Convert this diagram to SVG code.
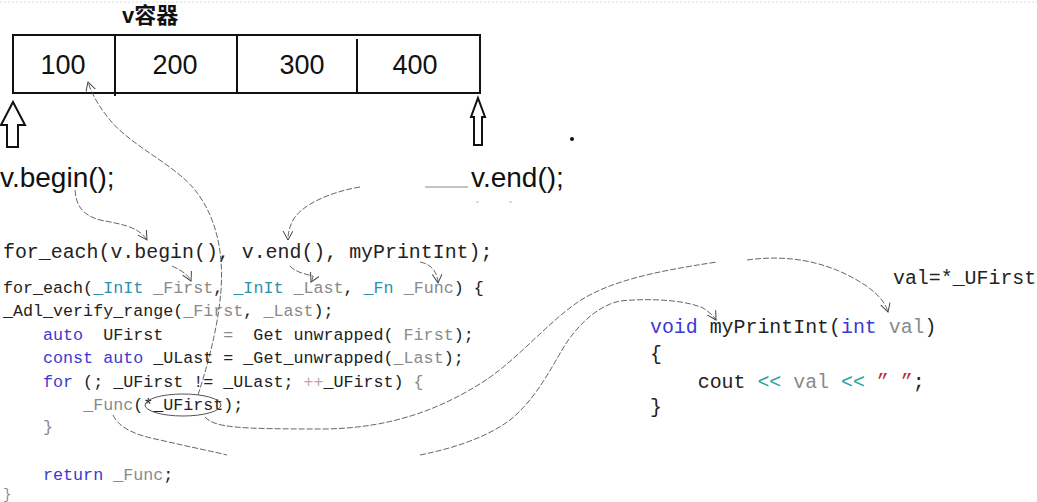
<svg xmlns="http://www.w3.org/2000/svg" width="1037" height="502" viewBox="0 0 1037 502" xml:space="preserve">
<style>
  .lbl { font-family: "Liberation Sans", "Noto Sans CJK SC", sans-serif; fill: #111; }
  .num { font-family: "Liberation Sans", sans-serif; font-size: 27px; fill: #111; text-anchor: middle; }
  .code { font-family: "Liberation Mono", "DejaVu Sans Mono", monospace; fill: #222; white-space: pre; }
  .sm { font-size: 16.7px; }
  .lg { font-size: 19.9px; }
  .kw { fill: #3a3ad0; }
  .ty { fill: #2b91af; }
  .pr { fill: #8a8a8a; }
  .op { fill: #2aa0a0; }
  .st { fill: #c03030; }
  .pp { fill: #c8a0a8; }
  .box { fill: none; stroke: #111; stroke-width: 2; }
  .blk { fill: #fff; stroke: #111; stroke-width: 2; stroke-linejoin: miter; }
  .con { fill: none; stroke: #555; stroke-width: 0.9; stroke-dasharray: 6 2; }
  .con2 { fill: none; stroke: #555; stroke-width: 1; }
</style>
<defs>
  <marker id="ah" markerUnits="userSpaceOnUse" markerWidth="12" markerHeight="12" refX="9" refY="5" orient="auto">
    <path d="M0,0 L9,5 L0,10" fill="none" stroke="#444" stroke-width="1"/>
  </marker>
</defs>
<rect width="1037" height="502" fill="#fff"/>
<line x1="0" y1="2" x2="1037" y2="2" stroke="#d4dbe4" stroke-width="1" stroke-dasharray="2 2"/>

<g id="container">
  <text class="lbl" x="122" y="23" font-size="22" font-weight="bold">v容器</text>
  <rect class="box" x="13" y="35" width="467" height="58"/>
  <line class="box" x1="115" y1="35" x2="115" y2="96"/>
  <line class="box" x1="237" y1="35" x2="237" y2="93"/>
  <line class="box" x1="357" y1="39" x2="357" y2="93"/>
  <text class="num" x="63" y="74">100</text>
  <text class="num" x="175" y="74">200</text>
  <text class="num" x="302" y="74">300</text>
  <text class="num" x="415" y="74">400</text>
</g>

<g id="begin-arrow">
  <polygon class="blk" points="13,102 25,125 18,125 18,147 7,147 7,125 1,125"/>
  <text class="lbl" x="0" y="187" font-size="28">v.begin();</text>
</g>

<g id="end-arrow">
  <polygon class="blk" points="478,98 485,117 482,117 482,145 474,145 474,117 471,117"/>
  <text class="lbl" x="471" y="187" font-size="28">v.end();</text>
  <line x1="425" y1="187" x2="468" y2="187" stroke="#888" stroke-width="1"/>
  <line x1="476" y1="202" x2="479" y2="202" stroke="#bbb" stroke-width="1"/>
  <line x1="509" y1="202" x2="512" y2="202" stroke="#bbb" stroke-width="1"/>
</g>

<circle id="dot" cx="572" cy="139" r="2" fill="#111"/>

<g id="call">
  <text class="code lg" x="3" y="258">for_each(v.begin(), v.end(), myPrintInt);</text>
</g>

<g id="for-each-impl">
  <text class="code sm" x="3" y="293">for_each(<tspan class="ty">_InIt</tspan> <tspan class="pr">_First</tspan>, <tspan class="ty">_InIt</tspan> <tspan class="pr">_Last</tspan>, <tspan class="ty">_Fn</tspan> <tspan class="pr">_Func</tspan>) {</text>
  <text class="code sm" x="3" y="316">_Adl_verify_range(<tspan class="pr">_First</tspan>, <tspan class="pr">_Last</tspan>);</text>
  <text class="code sm" x="3" y="340">    <tspan class="kw">auto</tspan>  UFirst      <tspan class="pr">=</tspan>  Get unwrapped( <tspan class="pr">First</tspan>);</text>
  <text class="code sm" x="3" y="363">    <tspan class="kw">const auto</tspan> _ULast = _Get_unwrapped(<tspan class="pr">_Last</tspan>);</text>
  <text class="code sm" x="3" y="387">    <tspan class="kw">for</tspan> (; _UFirst != _ULast; <tspan class="pp">++</tspan>_UFirst) <tspan class="pr">{</tspan></text>
  <text class="code sm" x="3" y="410">        <tspan class="pr">_Func</tspan>(*_UFirst);</text>
  <text class="code sm pr" x="3" y="432">    }</text>
  <text class="code sm" x="3" y="480">    <tspan class="kw">return</tspan> <tspan class="pr">_Func</tspan>;</text>
  <text class="code pr" x="3" y="499" font-size="14">}</text>
</g>

<g id="myPrintInt">
  <text class="code lg" x="650" y="333"><tspan class="kw">void</tspan> myPrintInt(<tspan class="kw">int</tspan> <tspan class="pr">val</tspan>)</text>
  <text class="code lg" x="650" y="360">{</text>
  <text class="code lg" x="650" y="388">    cout <tspan class="op">&lt;&lt;</tspan> <tspan class="pr">val</tspan> <tspan class="op">&lt;&lt;</tspan> <tspan class="st">” ”</tspan>;</text>
  <text class="code lg" x="650" y="413">}</text>
</g>

<g id="note">
  <text class="code lg" x="893" y="284">val=*_UFirst</text>
</g>

<g id="connectors">
  <ellipse class="con2" cx="183" cy="405" rx="38" ry="11"/>
  <path class="con" d="M198,395 C206,370 218,330 221,290 C224,250 215,215 195,190 C175,165 130,145 110,120 C100,108 92,95 88,82" marker-end="url(#ah)"/>
  <path class="con" d="M205,417 C215,428 240,429 325,429 C390,428 440,410 486,380 C520,357 550,320 581,300 C610,282 650,272 717,262 M747,260 C790,254 830,262 865,285 C878,294 885,302 888,312" marker-end="url(#ah)"/>
  <path class="con" d="M113,415 C120,430 140,436 160,440 C190,447 215,452 227,455 M420,455 C460,447 490,435 510,420 C535,400 550,370 565,345 C580,322 600,305 620,301 C650,298 685,300 703,308 C708,311 713,315 716,320" marker-end="url(#ah)"/>
  <path class="con" d="M75,190 C76,205 82,215 100,220 C120,224 138,226 147,240" marker-end="url(#ah)"/>
  <path class="con" d="M360,187 C330,192 300,205 292,222 C289,229 288,234 288,240" marker-end="url(#ah)"/>
  <path class="con" d="M172,266 C180,270 187,273 191,281" marker-end="url(#ah)"/>
  <path class="con" d="M290,266 C295,272 305,274 313,276 C313,278 312,280 311,282" marker-end="url(#ah)"/>
  <path class="con" d="M420,262 C430,264 437,270 438,283" marker-end="url(#ah)"/>
</g>
</svg>
